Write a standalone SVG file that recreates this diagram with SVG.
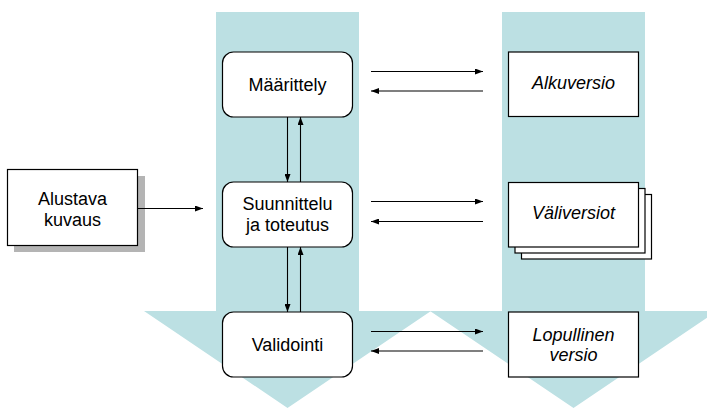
<svg xmlns="http://www.w3.org/2000/svg" width="707" height="408" viewBox="0 0 707 408">
  <defs>
    <style>
      .flow { fill: #bce0e3; }
      .step { fill: #ffffff; stroke: #000000; stroke-width: 1.2; }
      .doc { fill: #ffffff; stroke: #000000; stroke-width: 1.2; }
      .shadow { fill: #b4b4b4; }
      .lbl { font-family: "Liberation Sans", Arial, sans-serif; font-size: 18px; fill: #000000; text-anchor: middle; }
      .it { font-style: italic; }
      .conn { stroke: #000000; stroke-width: 1.1; fill: none; marker-end: url(#head); }
    </style>
    <marker id="head" viewBox="0 0 8 6" refX="8" refY="3" markerWidth="8" markerHeight="6" markerUnits="userSpaceOnUse" orient="auto">
      <path d="M0,0 L8,3 L0,6 Z" fill="#000000"/>
    </marker>
  </defs>

  <!-- background process arrows -->
  <g id="process-arrow">
    <polygon class="flow" points="216,12 359,12 359,311 431,311 287.5,408 144,311 216,311"/>
  </g>
  <g id="product-arrow">
    <polygon class="flow" points="502,12 645,12 645,311 717,311 573.5,408 430,311 502,311"/>
  </g>

  <!-- initial description -->
  <g id="alustava">
    <rect class="shadow" x="14" y="176" width="131" height="76"/>
    <rect class="doc" x="7.5" y="169.5" width="130" height="76"/>
    <text class="lbl" x="72.5" y="205">Alustava</text>
    <text class="lbl" x="72.5" y="226">kuvaus</text>
  </g>

  <!-- process steps -->
  <g id="maarittely">
    <rect class="step" x="222.5" y="52" width="130" height="65" rx="11"/>
    <text class="lbl" x="287.5" y="91">Määrittely</text>
  </g>
  <g id="suunnittelu">
    <rect class="step" x="222.5" y="182" width="130" height="65" rx="11"/>
    <text class="lbl" x="287.5" y="210">Suunnittelu</text>
    <text class="lbl" x="287.5" y="231">ja toteutus</text>
  </g>
  <g id="validointi">
    <rect class="step" x="222.5" y="312" width="130" height="65" rx="11"/>
    <text class="lbl" x="287.5" y="351">Validointi</text>
  </g>

  <!-- products -->
  <g id="alkuversio">
    <rect class="doc" x="508.5" y="52" width="130" height="64.5"/>
    <text class="lbl it" x="573.5" y="89">Alkuversio</text>
  </g>
  <g id="valiversiot">
    <rect class="doc" x="521.5" y="194.5" width="130" height="64.5"/>
    <rect class="doc" x="515" y="188.5" width="130" height="64.5"/>
    <rect class="doc" x="508.5" y="182.5" width="130" height="64.5"/>
    <text class="lbl it" x="573.5" y="219">Väliversiot</text>
  </g>
  <g id="lopullinen">
    <rect class="doc" x="508.5" y="312" width="130" height="65"/>
    <text class="lbl it" x="573.5" y="341">Lopullinen</text>
    <text class="lbl it" x="573.5" y="361">versio</text>
  </g>

  <!-- connectors -->
  <g id="connectors">
    <line class="conn" x1="138" y1="208.5" x2="203" y2="208.5"/>

    <line class="conn" x1="287.5" y1="117" x2="287.5" y2="182"/>
    <line class="conn" x1="300.5" y1="182" x2="300.5" y2="117"/>
    <line class="conn" x1="287.5" y1="247" x2="287.5" y2="312"/>
    <line class="conn" x1="300.5" y1="312" x2="300.5" y2="247"/>

    <line class="conn" x1="371" y1="71.5" x2="483" y2="71.5"/>
    <line class="conn" x1="483" y1="91" x2="371" y2="91"/>
    <line class="conn" x1="371" y1="201.5" x2="483" y2="201.5"/>
    <line class="conn" x1="483" y1="221.5" x2="371" y2="221.5"/>
    <line class="conn" x1="371" y1="331.5" x2="483" y2="331.5"/>
    <line class="conn" x1="483" y1="351" x2="371" y2="351"/>
  </g>
</svg>
